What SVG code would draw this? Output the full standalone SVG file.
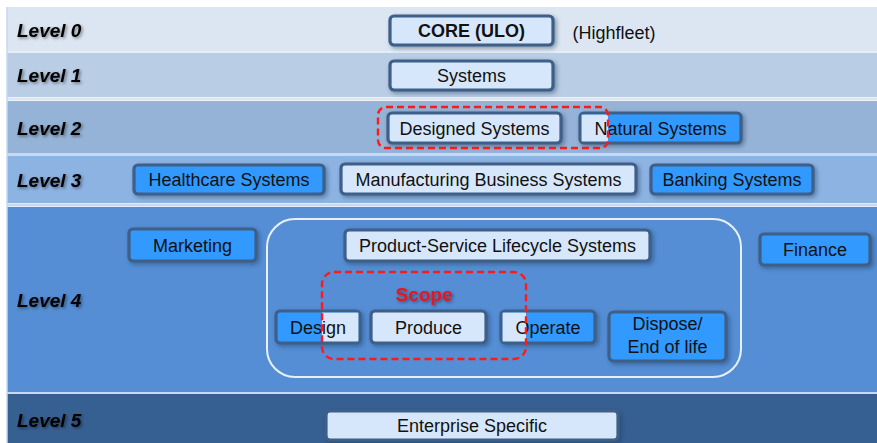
<svg xmlns="http://www.w3.org/2000/svg" width="877" height="443" viewBox="0 0 877 443">
<defs>
<style>
.lvl{font-family:"Liberation Sans",Arial,sans-serif;font-size:19px;font-weight:bold;font-style:italic;fill:#000;filter:url(#tsh)}
.bx{stroke:#3d5e88;stroke-width:3.2;filter:url(#sh)}
.lt{fill:#d6e7fb}
.bl{fill:#3399ff}
.t{font-family:"Liberation Sans",Arial,sans-serif;font-size:18px;fill:#111;text-anchor:middle}
.dash{fill:none;stroke:#ff1a1a;stroke-width:2.4;stroke-dasharray:7 4}
</style>
<filter id="sh" x="-20%" y="-30%" width="140%" height="160%">
<feDropShadow dx="2" dy="2" stdDeviation="2" flood-color="#1e3555" flood-opacity="0.45"/>
</filter>
<filter id="tsh" x="-20%" y="-30%" width="140%" height="160%">
<feDropShadow dx="1.5" dy="1.5" stdDeviation="1.5" flood-color="#000" flood-opacity="0.45"/>
</filter>
<clipPath id="c2"><rect x="378" y="107" width="230" height="41" rx="8"/></clipPath>
<clipPath id="c4"><rect x="322" y="272" width="204" height="87" rx="12"/></clipPath>
</defs>
<rect x="0" y="0" width="877" height="443" fill="#ffffff"/>
<g id="bands">
<rect x="7" y="7" width="870" height="44" fill="#dce6f2"/>
<rect x="7" y="53" width="870" height="44" fill="#b9cde5"/>
<rect x="7" y="101" width="870" height="52" fill="#95b3d7"/>
<rect x="7" y="156" width="870" height="47" fill="#8db3e2"/>
<rect x="7" y="207" width="870" height="185" fill="#558ed5"/>
<rect x="7" y="394" width="870" height="49" fill="#376092"/>
<line x1="7" y1="52" x2="877" y2="52" stroke="#e4ecf7" stroke-width="2"/>
<line x1="7" y1="99" x2="877" y2="99" stroke="#dce6f2" stroke-width="3"/>
<line x1="7" y1="154.5" x2="877" y2="154.5" stroke="#c6d9f1" stroke-width="3"/>
<line x1="7" y1="205" x2="877" y2="205" stroke="#c6d9f1" stroke-width="3"/>
<line x1="7" y1="393" x2="877" y2="393" stroke="#c6d9f1" stroke-width="2"/>
<line x1="7" y1="7" x2="7" y2="443" stroke="#c6d9f1" stroke-width="1.5"/>
</g>
<g id="labels">
<text class="lvl" x="17" y="37">Level 0</text>
<text class="lvl" x="17" y="82">Level 1</text>
<text class="lvl" x="17" y="135">Level 2</text>
<text class="lvl" x="17" y="187">Level 3</text>
<text class="lvl" x="17" y="307">Level 4</text>
<text class="lvl" x="17" y="427">Level 5</text>
</g>
<g id="container">
<rect x="267" y="219" width="474" height="158" rx="28" fill="none" stroke="#e8f0fa" stroke-width="2"/>
</g>
<g id="core">
<rect class="bx lt" x="390" y="16" width="163" height="29" rx="4"/>
<text class="t" x="471.5" y="37" font-weight="bold">CORE (ULO)</text>
</g>
<g id="highfleet">
<text class="t" x="614" y="39">(Highfleet)</text>
</g>
<g id="systems">
<rect class="bx lt" x="390" y="61" width="163" height="29" rx="4"/>
<text class="t" x="471.5" y="82">Systems</text>
</g>
<g id="designed">
<rect class="bx lt" x="388" y="113" width="173" height="30" rx="4"/>
<text class="t" x="474.5" y="134.5">Designed Systems</text>
</g>
<g id="natural">
<rect class="bx bl" x="580" y="113" width="161" height="30" rx="4"/>
<rect x="581.6" y="114.6" width="157.8" height="26.8" class="lt" clip-path="url(#c2)"/>
<text class="t" x="660.5" y="134.5">Natural Systems</text>
</g>
<g id="healthcare">
<rect class="bx bl" x="134" y="165" width="190" height="29" rx="4"/>
<text class="t" x="229" y="186">Healthcare Systems</text>
</g>
<g id="manufacturing">
<rect class="bx lt" x="341" y="164" width="295" height="30" rx="4"/>
<text class="t" x="488.5" y="185.5">Manufacturing Business Systems</text>
</g>
<g id="banking">
<rect class="bx bl" x="651" y="165" width="162" height="29" rx="4"/>
<text class="t" x="732" y="186">Banking Systems</text>
</g>
<g id="marketing">
<rect class="bx bl" x="129" y="229" width="127" height="32" rx="4"/>
<text class="t" x="192.5" y="251.5">Marketing</text>
</g>
<g id="pslc">
<rect class="bx lt" x="345" y="230" width="305" height="31" rx="4"/>
<text class="t" x="497.5" y="252">Product-Service Lifecycle Systems</text>
</g>
<g id="finance">
<rect class="bx bl" x="760" y="234" width="110" height="31" rx="4"/>
<text class="t" x="815" y="256">Finance</text>
</g>
<g id="design">
<rect class="bx bl" x="276" y="311" width="84" height="32" rx="4"/>
<rect x="277.6" y="312.6" width="80.8" height="28.8" class="lt" clip-path="url(#c4)"/>
<text class="t" x="318" y="333.5">Design</text>
</g>
<g id="produce">
<rect class="bx lt" x="371" y="311" width="115" height="32" rx="4"/>
<text class="t" x="428.5" y="333.5">Produce</text>
</g>
<g id="operate">
<rect class="bx bl" x="501" y="311" width="94" height="32" rx="4"/>
<rect x="502.6" y="312.6" width="90.8" height="28.8" class="lt" clip-path="url(#c4)"/>
<text class="t" x="548" y="333.5">Operate</text>
</g>
<g id="dispose">
<rect class="bx bl" x="609" y="312" width="117" height="49" rx="5"/>
<text class="t" x="667.5" y="330">Dispose/</text>
<text class="t" x="667.5" y="353">End of life</text>
</g>
<g id="enterprise">
<rect class="bx lt" x="326" y="411" width="292" height="29" rx="4"/>
<text class="t" x="472" y="432">Enterprise Specific</text>
</g>
<g id="scopes">
<rect class="dash" x="378" y="107" width="230" height="41" rx="8"/>
<rect class="dash" x="322" y="272" width="204" height="87" rx="12"/>
<text x="424" y="301" text-anchor="middle" font-family="Liberation Sans, Arial, sans-serif" font-size="19px" font-weight="bold" fill="#e8141c" filter="url(#tsh)">Scope</text>
</g>
</svg>
